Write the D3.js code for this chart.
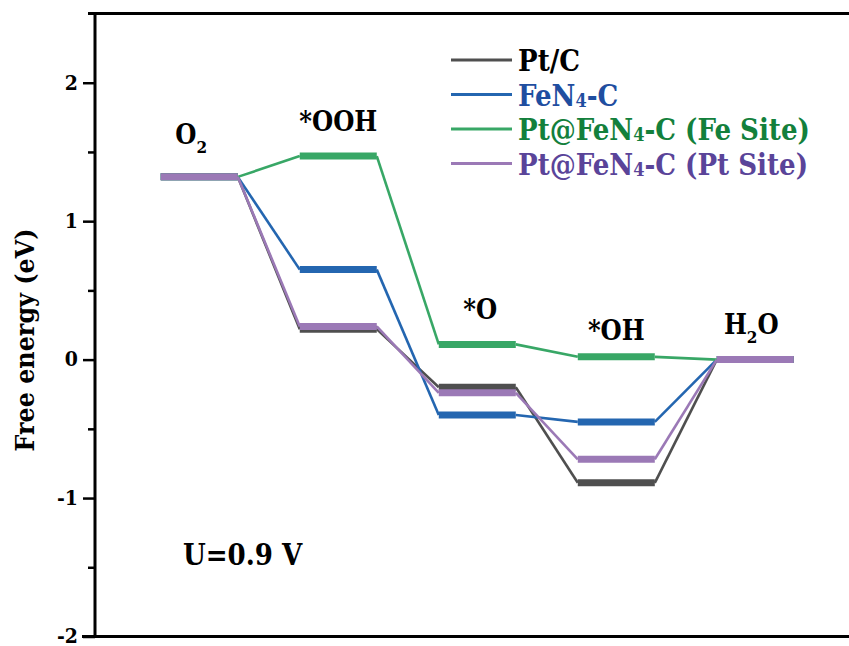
<!DOCTYPE html>
<html><head><meta charset="utf-8">
<script src="https://cdn.jsdelivr.net/npm/d3@7"></script>
<style>body{margin:0;background:#fff}svg{display:block}svg text{font-stretch:condensed}</style>
</head><body>
<script>
const steps = ["O2", "*OOH", "*O", "*OH", "H2O"];
const seriesNames = ["Pt/C", "FeN4-C", "Pt@FeN4-C (Fe Site)", "Pt@FeN4-C (Pt Site)"];
const ptC      = [1.32, 0.22, -0.20, -0.89, 0];
const feN4C    = [1.32, 0.65, -0.40, -0.45, 0];
const ptFeSite = [1.32, 1.47, 0.11, 0.02, 0];
const ptPtSite = [1.32, 0.24, -0.24, -0.72, 0];
const yTicks = [-2, -1, 0, 1, 2];
const yMinorTicks = [-1.5, -0.5, 0.5, 1.5];
const annotation = "U=0.9 V";

const W = 849, H = 646;
const FONT = '"DejaVu Serif Condensed", "DejaVu Serif", serif';
const colors = ["#4f4f4f", "#2466b0", "#38a766", "#9b79b6"];
const textColors = ["#000000", "#1f4ea0", "#13803c", "#5a4499"];
const series = [ptC, feN4C, ptFeSite, ptPtSite];

const svg = d3.select("body").append("svg").attr("width", W).attr("height", H)
  .attr("font-family", FONT).attr("font-weight", "bold");
const x = d3.scaleLinear().domain([-0.75, 4.674]).range([95, 849]);
const y = d3.scaleLinear().domain([-2, 2.5]).range([636.5, 13.5]);
const hw = 0.277;

series.forEach((vals, si) => {
  const g = svg.append("g");
  for (let i = 0; i < vals.length - 1; i++) {
    g.append("line")
      .attr("x1", x(i + hw)).attr("y1", y(vals[i]))
      .attr("x2", x(i + 1 - hw)).attr("y2", y(vals[i + 1]))
      .attr("stroke", colors[si]).attr("stroke-width", 2.6);
  }
  vals.forEach((v, i) => {
    g.append("line")
      .attr("x1", x(i - hw)).attr("x2", x(i + hw))
      .attr("y1", y(v)).attr("y2", y(v))
      .attr("stroke", colors[si]).attr("stroke-width", 7);
  });
});

svg.append("line").attr("x1", 88).attr("x2", W).attr("y1", y(2.5)).attr("y2", y(2.5)).attr("stroke", "#000").attr("stroke-width", 3);
svg.append("line").attr("x1", 82).attr("x2", W).attr("y1", y(-2)).attr("y2", y(-2)).attr("stroke", "#000").attr("stroke-width", 3);

const yAxis = d3.axisLeft(y).tickValues(yTicks).tickSize(12).tickPadding(5).tickFormat(d3.format("d"));
const ga = svg.append("g").attr("transform", "translate(95,0)").call(yAxis).attr("font-family", FONT);
ga.select(".domain").attr("stroke-width", 3).attr("d", `M0,${y(2.5)}V${y(-2)}`);
ga.selectAll(".tick line").attr("stroke-width", 2.5);
ga.selectAll(".tick text").attr("font-size", 21).attr("font-weight", "bold").attr("fill", "#000")
  .attr("dy", "0.3em")
  .text(d => d < 0 ? "-" + Math.abs(d) : d);
const gm = svg.append("g").attr("transform", "translate(95,0)").call(d3.axisLeft(y).tickValues(yMinorTicks).tickSize(7).tickFormat(""));
gm.select(".domain").remove();
gm.selectAll(".tick line").attr("stroke-width", 2.5);

svg.append("text").attr("transform", `translate(34,${340}) rotate(-90)`).attr("text-anchor", "middle")
  .attr("font-size", 26.5).text("Free energy (eV)");

const labelDy = [33, 25, 25, 17, 26];
const labelDx = [-8, 0, 3, 0, -4];
steps.forEach((s, i) => {
  const top = d3.max(series, v => v[i]);
  const t = svg.append("text").attr("x", x(i) + labelDx[i]).attr("y", y(top) - labelDy[i])
    .attr("text-anchor", "middle").attr("font-size", 27);
  const m = s.match(/^([A-Z]+)(\d)(.*)$/);
  if (m) {
    t.append("tspan").text(m[1]);
    t.append("tspan").attr("font-size", 17).attr("dy", 9).text(m[2]);
    t.append("tspan").attr("dy", -9).text(m[3]);
  } else t.text(s);
});

const lg = svg.append("g");
seriesNames.forEach((n, i) => {
  const yy = 60 + i * 34.5;
  lg.append("line").attr("x1", 451).attr("x2", 512).attr("y1", yy).attr("y2", yy).attr("stroke", colors[i]).attr("stroke-width", 3);
  const t = lg.append("text").attr("x", 518).attr("y", yy + 11).attr("font-size", 29).attr("fill", textColors[i]);
  const m = n.match(/^(.*N)(4)(.*)$/);
  if (m) {
    t.append("tspan").text(m[1]);
    t.append("tspan").attr("font-size", 18).attr("dy", 1).text(m[2]);
    t.append("tspan").attr("dy", -1).text(m[3]);
  } else t.text(n);
});

svg.append("text").attr("x", 183).attr("y", 565).attr("font-size", 29).text(annotation);
</script>
</body></html>
